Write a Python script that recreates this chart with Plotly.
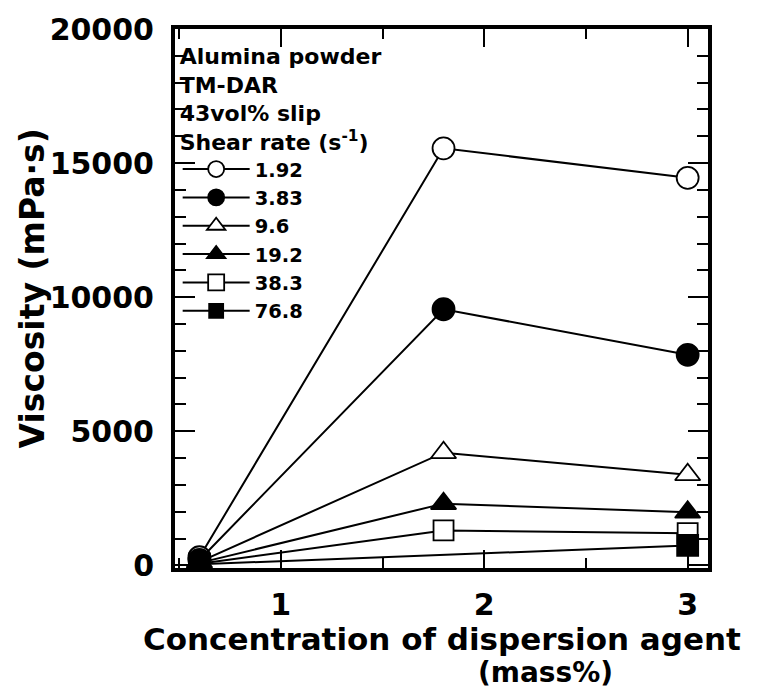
import plotly.graph_objects as go

conc = [0.6, 1.8, 3.0]
shear_rates = ["1.92", "3.83", "9.6", "19.2", "38.3", "76.8"]
visc_192 = [300, 15550, 14450]
visc_383 = [200, 9550, 7850]
visc_96 = [130, 4200, 3380]
visc_192b = [90, 2300, 1980]
visc_383b = [60, 1300, 1200]
visc_768 = [40, 380, 740]

series = [visc_192, visc_383, visc_96, visc_192b, visc_383b, visc_768]
symbols = ["circle-open", "circle", "triangle-up-open", "triangle-up", "square-open", "square"]
sizes = [[22, 22, 22], [22, 22, 22], [22, 22, 22], [22, 22, 22], [20, 20, 20], [21, 0, 21]]

FONT = "DejaVu Sans"

fig = go.Figure()
for name, vals, sym, sz in zip(shear_rates, series, symbols, sizes):
    is_open = sym.endswith("open")
    fig.add_trace(go.Scatter(
        x=conc, y=vals, name=name, mode="lines+markers", opacity=1,
        line=dict(color="black", width=2),
        marker=dict(symbol=sym.replace("-open", ""), size=sz, opacity=1,
                    color="white" if is_open else "black",
                    line=dict(color="black", width=1.8)),
    ))

axis_common = dict(
    showline=True, linewidth=4, linecolor="black", mirror="ticks",
    ticks="inside", tickcolor="black", tickwidth=2,
    showgrid=False, zeroline=False, tickformat="d",
    tickfont=dict(family=FONT, size=30, color="black", weight="bold"),
)

fig.update_xaxes(range=[0.48, 3.10], tick0=0, dtick=1, ticklen=18,
                 minor=dict(dtick=0.5, ticklen=10, ticks="inside", tickcolor="black", tickwidth=2),
                 ticklabelstandoff=7, **axis_common)
fig.update_yaxes(range=[-100, 20000], tick0=0, dtick=5000, ticklen=20,
                 minor=dict(dtick=1000, ticklen=11, ticks="inside", tickcolor="black", tickwidth=2),
                 ticklabelstandoff=11, **axis_common)

fig.update_layout(
    width=763, height=692,
    margin=dict(l=175, r=55, t=29, b=124),
    paper_bgcolor="white", plot_bgcolor="white",
    font=dict(family=FONT, color="black"),
    legend=dict(
        x=0.005, y=0.988, xanchor="left", yanchor="top",
        bgcolor="rgba(0,0,0,0)", borderwidth=0,
        font=dict(family=FONT, size=19.5, color="black", weight="bold"),
        title=dict(text="Alumina powder<br>TM-DAR<br>43vol% slip<br>Shear rate (s<sup>-1</sup>)",
                   side="top",
                   font=dict(family=FONT, size=22, color="black", weight="bold")),
        itemwidth=67,
    ),
    annotations=[
        dict(text="Concentration of dispersion agent", xref="paper", yref="paper",
             x=0.501, y=-0.132, xanchor="center", yanchor="middle", showarrow=False,
             font=dict(family=FONT, size=31, color="black", weight="bold")),
        dict(text="(mass%)", xref="paper", yref="paper",
             x=0.696, y=-0.193, xanchor="center", yanchor="middle", showarrow=False,
             font=dict(family=FONT, size=28, color="black", weight="bold")),
        dict(text="Viscosity (mPa·s)", xref="paper", yref="paper",
             x=-0.268, y=0.519, xanchor="center", yanchor="middle", showarrow=False,
             textangle=-90,
             font=dict(family=FONT, size=33, color="black", weight="bold")),
    ],
)

fig.write_html("out.html")
